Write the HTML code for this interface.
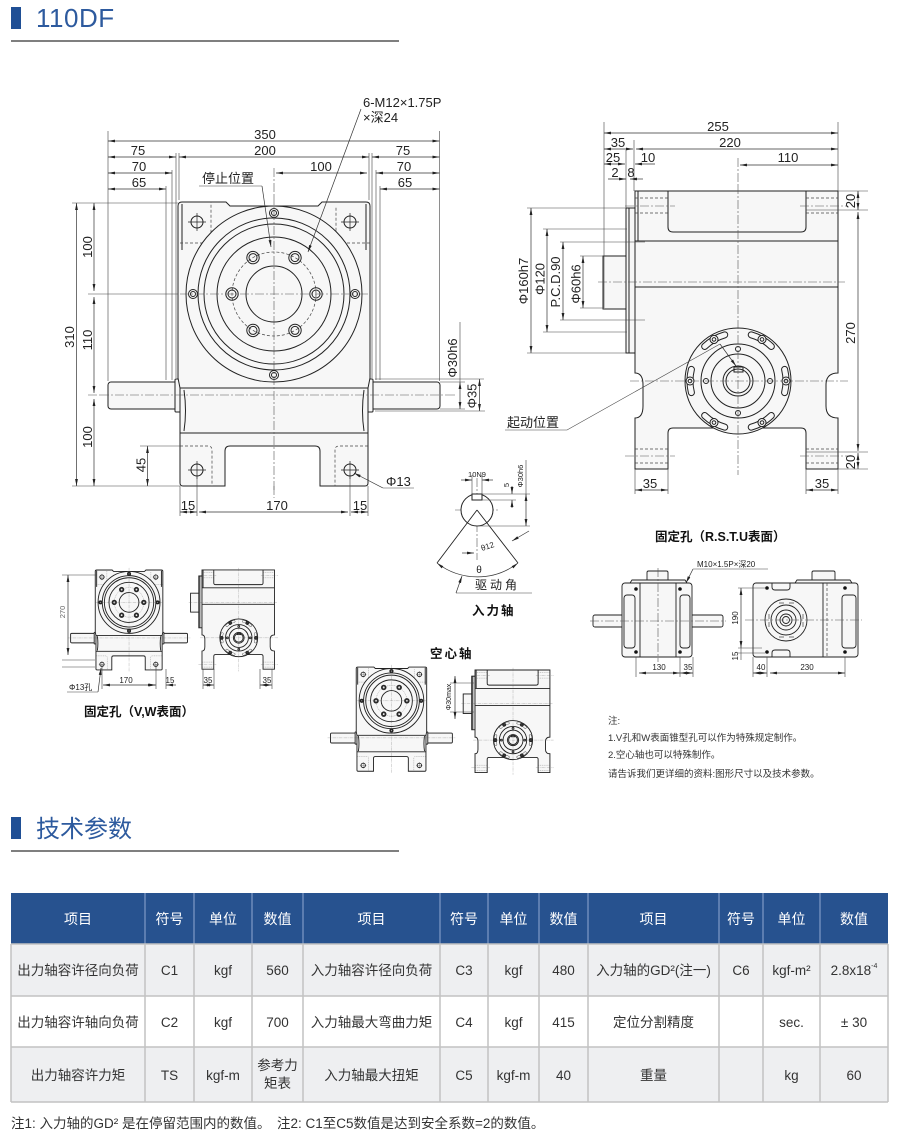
<!DOCTYPE html>
<html><head><meta charset="utf-8">
<style>
html,body{margin:0;padding:0;background:#fff;}
svg{display:block;font-family:"Liberation Sans","Noto Sans CJK SC",sans-serif;}
.d{stroke:#333;stroke-width:0.7;fill:none;marker-start:url(#a);marker-end:url(#a);}
.de{stroke:#333;stroke-width:0.7;fill:none;marker-end:url(#a);}
.e{stroke:#444;stroke-width:0.6;fill:none;}
.c{stroke:#555;stroke-width:0.6;stroke-dasharray:9 2 2 2;fill:none;}
.h{stroke:#444;stroke-width:0.7;stroke-dasharray:3 2;fill:none;}
.t{font-size:13px;fill:#222;}
.s{font-size:8px;fill:#222;}
.n{font-size:9.5px;fill:#333;}
.b{font-size:12.5px;fill:#111;font-weight:bold;}
.th{font-size:14px;fill:#fff;}
.td{font-size:13.5px;fill:#333;}
</style></head><body>
<svg width="900" height="1145" viewBox="0 0 900 1145" xmlns="http://www.w3.org/2000/svg">
<defs>
<marker id="a" viewBox="0 0 10 10" refX="10" refY="5" markerWidth="7" markerHeight="7" orient="auto-start-reverse" markerUnits="userSpaceOnUse"><path d="M0,3 L10,5 L0,7z" fill="#222"/></marker>
</defs>

<!-- Heading 110DF -->
<rect x="11" y="7" width="10" height="22" fill="#1f4f95"/>
<text x="36" y="27" font-size="26" fill="#2d5a9e" letter-spacing="0.5">110DF</text>
<line x1="11" y1="41" x2="399" y2="41" stroke="#555" stroke-width="1.5"/>

<!-- ============ MAIN FRONT VIEW ============ -->
<g stroke-width="1">
<g id="fv" stroke="#222" fill="none">
<rect x="108" y="382" width="70" height="27" rx="3" fill="#f7f7f7"/>
<rect x="175" y="379" width="6" height="33" rx="1" fill="#f7f7f7"/>
<rect x="370" y="382" width="70" height="27" rx="3" fill="#f7f7f7"/>
<rect x="367" y="379" width="6" height="33" rx="1" fill="#f7f7f7"/>
<path d="M178,206 Q178,202 182,202 H226 L230,206 H318 L322,202 H366 Q370,202 370,206 V378 L368,388 V483 Q368,486 365,486 H320 V451 Q320,446 315,446 H230 Q225,446 225,451 V486 H183 Q180,486 180,483 V388 L178,378 Z" fill="#f7f7f7"/>
<path d="M182,204 V250 M366,204 V250"/>
<path d="M180,388 H368 M180,433 H368 M184,390 Q187,411 184,431 M364,390 Q361,411 364,431"/>
<path class="h" d="M180,243 H208 Q211,243 211,240 V202 M370,243 H339 Q336,243 336,240 V206 M180,446 H208 Q212,446 212,450 V486 M368,446 H339 Q335,446 335,450 V486"/>
<circle cx="274" cy="294" r="88" fill="#f7f7f7"/>
<circle cx="274" cy="294" r="76"/>
<circle cx="274" cy="294" r="70"/>
<circle cx="274" cy="294" r="57"/>
<circle class="h" cx="274" cy="294" r="42"/>
<circle cx="274" cy="294" r="28"/>
<circle cx="316" cy="294" r="6.2"/><circle cx="316" cy="294" r="4"/>
<circle cx="295" cy="330.4" r="6.2"/><circle cx="295" cy="330.4" r="4"/>
<circle cx="253" cy="330.4" r="6.2"/><circle cx="253" cy="330.4" r="4"/>
<circle cx="232" cy="294" r="6.2"/><circle cx="232" cy="294" r="4"/>
<circle cx="253" cy="257.6" r="6.2"/><circle cx="253" cy="257.6" r="4"/>
<circle cx="295" cy="257.6" r="6.2"/><circle cx="295" cy="257.6" r="4"/>
<circle cx="274" cy="213" r="4.5"/><circle cx="274" cy="213" r="2.5"/>
<circle cx="274" cy="375" r="4.5"/><circle cx="274" cy="375" r="2.5"/>
<circle cx="193" cy="294" r="4.5"/><circle cx="193" cy="294" r="2.5"/>
<circle cx="355" cy="294" r="4.5"/><circle cx="355" cy="294" r="2.5"/>
<circle cx="197" cy="222" r="6"/><circle cx="350" cy="222" r="6"/>
<circle cx="197" cy="470" r="6"/><circle cx="350" cy="470" r="6"/>
<path stroke-width="0.7" d="M188,222 H206 M197,213 V231 M341,222 H359 M350,213 V231 M188,470 H206 M197,461 V479 M341,470 H359 M350,461 V479"/>
<path class="c" d="M274,196 V492 M180,294 H368 M100,395 H448"/>
</g>
</g>

<!-- front view dims -->
<path class="c" d="M274,168 V196 M274,486 V498 M88,395 H100 M448,395 H455"/>
<path class="e" d="M108,131 V381 M439.5,131 V381 M166,186 V380 M172,170 V380 M176,153 V378 M179,153 V200 M369,153 V200 M372,153 V378 M376,170 V380 M380,186 V380"/>
<line class="d" x1="108" y1="141" x2="439.5" y2="141"/>
<text class="t" x="265" y="139" text-anchor="middle">350</text>
<line class="d" x1="108" y1="157" x2="176" y2="157"/>
<line class="d" x1="179" y1="157" x2="369" y2="157"/>
<line class="d" x1="372" y1="157" x2="439.5" y2="157"/>
<text class="t" x="138" y="155" text-anchor="middle">75</text>
<text class="t" x="265" y="155" text-anchor="middle">200</text>
<text class="t" x="403" y="155" text-anchor="middle">75</text>
<line class="d" x1="108" y1="173" x2="172" y2="173"/>
<line class="d" x1="276" y1="173" x2="367" y2="173"/>
<line class="d" x1="376" y1="173" x2="439.5" y2="173"/>
<text class="t" x="139" y="171" text-anchor="middle">70</text>
<text class="t" x="321" y="171" text-anchor="middle">100</text>
<text class="t" x="404" y="171" text-anchor="middle">70</text>
<line class="d" x1="108" y1="189" x2="166" y2="189"/>
<line class="d" x1="380" y1="189" x2="439.5" y2="189"/>
<text class="t" x="139" y="187" text-anchor="middle">65</text>
<text class="t" x="405" y="187" text-anchor="middle">65</text>

<text x="202" y="183" font-size="13" fill="#222">停止位置</text>
<line class="e" x1="199" y1="186" x2="262" y2="186"/>
<line class="de" x1="262" y1="186" x2="271" y2="247"/>
<text class="t" x="363" y="107">6-M12×1.75P</text>
<text class="t" x="363" y="122">×深24</text>
<line class="de" x1="361" y1="109" x2="308" y2="252"/>

<!-- left dims -->
<path class="e" d="M72,203 H178 M88,294 H178 M72,486 H180 M140,446 H180"/>
<line class="d" x1="76.5" y1="203" x2="76.5" y2="486"/>
<line class="d" x1="94" y1="203" x2="94" y2="291"/>
<line class="d" x1="94" y1="297" x2="94" y2="393"/>
<line class="d" x1="94" y1="399" x2="94" y2="486"/>
<line class="d" x1="147.5" y1="446" x2="147.5" y2="486"/>
<text class="t" transform="translate(74,337) rotate(-90)" text-anchor="middle">310</text>
<text class="t" transform="translate(92,247) rotate(-90)" text-anchor="middle">100</text>
<text class="t" transform="translate(92,340) rotate(-90)" text-anchor="middle">110</text>
<text class="t" transform="translate(92,437) rotate(-90)" text-anchor="middle">100</text>
<text class="t" transform="translate(145.5,465) rotate(-90)" text-anchor="middle">45</text>

<!-- bottom dims -->
<path class="e" d="M180,486 V516 M197,476 V516 M350,476 V516 M368,486 V516"/>
<line class="d" x1="180" y1="512" x2="197" y2="512"/>
<line class="d" x1="199" y1="512" x2="348" y2="512"/>
<line class="d" x1="351" y1="512" x2="368" y2="512"/>
<text class="t" x="188" y="510" text-anchor="middle">15</text>
<text class="t" x="277" y="510" text-anchor="middle">170</text>
<text class="t" x="360" y="510" text-anchor="middle">15</text>
<text class="t" x="386" y="486">Φ13</text>
<path class="e" d="M383,488 H414"/>
<line class="de" x1="383" y1="488" x2="354" y2="473"/>

<!-- right shaft dims -->
<path class="e" d="M440,382 H465 M440,409 H465 M375,379 H484 M375,411 H485"/>
<line class="e" x1="460" y1="322" x2="460" y2="382"/>
<line class="d" x1="460" y1="382" x2="460" y2="409"/>
<line class="d" x1="479.5" y1="379" x2="479.5" y2="411"/>
<text class="t" transform="translate(457,358) rotate(-90)" text-anchor="middle">Φ30h6</text>
<text class="t" transform="translate(476.5,396) rotate(-90)" text-anchor="middle">Φ35</text>

<!-- ============ MAIN SIDE VIEW ============ -->
<g stroke-width="1">
<g id="sv" stroke="#222" fill="none">
<rect x="603" y="256" width="24" height="53" fill="#f7f7f7"/>
<rect x="626" y="208" width="9" height="145" fill="#f7f7f7"/>
<line x1="629" y1="208" x2="629" y2="353"/>
<path d="M635,191 H838 V373 Q826,373 826,385 V406 Q826,418 838,418 V469 H806 V433 Q806,428 801,428 H673 Q668,428 668,433 V469 H635 V418 Q643,418 643,406 V385 Q643,373 635,373 Z" fill="#f7f7f7"/>
<path d="M668,191 V227 Q668,232 673,232 H801 Q806,232 806,227 V191"/>
<line x1="638" y1="191" x2="638" y2="241"/>
<path d="M635,241 H838 M635,287 H838"/>
<path class="h" d="M635,198 H668 M635,213 H668 M806,198 H838 M806,213 H838 M635,449 H668 M635,463 H668 M806,449 H838 M806,463 H838"/>
<path class="c" d="M625,206 H675 M800,206 H848 M625,456 H675 M800,456 H848"/>
<circle cx="738" cy="381" r="53" fill="#f7f7f7"/>
<circle cx="738" cy="381" r="37"/>
<circle cx="738" cy="381" r="27"/>
<circle cx="738" cy="381" r="15"/>
<circle cx="738" cy="381" r="12"/>
<rect x="734" y="367" width="9" height="5"/>
<g id="slot">
<path d="M784.6,369.4 A48,48 0 0 1 784.6,392.6" stroke="#222" stroke-width="7" stroke-linecap="round"/>
<path d="M784.6,369.4 A48,48 0 0 1 784.6,392.6" stroke="#f7f7f7" stroke-width="5" stroke-linecap="round"/>
<circle cx="786" cy="381" r="4" fill="#f7f7f7"/>
<circle cx="786" cy="381" r="1.8"/>
</g>
<use href="#slot" transform="rotate(60 738 381)"/>
<use href="#slot" transform="rotate(120 738 381)"/>
<use href="#slot" transform="rotate(180 738 381)"/>
<use href="#slot" transform="rotate(240 738 381)"/>
<use href="#slot" transform="rotate(300 738 381)"/>
<circle cx="770" cy="381" r="2.5"/><circle cx="706" cy="381" r="2.5"/>
<circle cx="738" cy="349" r="2.5"/><circle cx="738" cy="413" r="2.5"/>
<path class="c" d="M738,185 V475 M630,381 H848 M598,282 H845"/>
</g>
</g>

<!-- side view dims -->
<path class="c" d="M738,158 V185"/>
<path class="e" d="M604,122 V308 M838,122 V191 M626,150 V208 M634,140 V191"/>
<line class="d" x1="604" y1="133" x2="838" y2="133"/>
<text class="t" x="718" y="131" text-anchor="middle">255</text>
<line class="d" x1="604" y1="149" x2="633" y2="149"/>
<line class="d" x1="636" y1="149" x2="838" y2="149"/>
<text class="t" x="618" y="147" text-anchor="middle">35</text>
<text class="t" x="730" y="147" text-anchor="middle">220</text>
<line class="d" x1="604" y1="164" x2="625" y2="164"/>
<line class="de" x1="655" y1="164" x2="635" y2="164"/>
<line class="d" x1="740" y1="165" x2="838" y2="165"/>
<text class="t" x="613" y="162" text-anchor="middle">25</text>
<text class="t" x="648" y="162" text-anchor="middle">10</text>
<text class="t" x="788" y="162" text-anchor="middle">110</text>
<line class="de" x1="608" y1="179" x2="626" y2="179"/>
<line class="de" x1="643" y1="179" x2="630" y2="179"/>
<text class="t" x="615" y="177" text-anchor="middle">2</text>
<text class="t" x="631" y="177" text-anchor="middle">8</text>

<path class="e" d="M527,208 H626 M543,229 H627 M560,242 H645 M580,256 H603 M580,308 H603 M560,320 H645 M543,332 H627 M527,353 H626"/>
<line class="d" x1="531" y1="208" x2="531" y2="353"/>
<line class="d" x1="547" y1="229" x2="547" y2="332"/>
<line class="d" x1="563" y1="242" x2="563" y2="320"/>
<line class="d" x1="583" y1="256" x2="583" y2="308"/>
<text class="t" transform="translate(528,281) rotate(-90)" text-anchor="middle">Φ160h7</text>
<text class="t" transform="translate(544.5,279) rotate(-90)" text-anchor="middle">Φ120</text>
<text class="t" transform="translate(560,282) rotate(-90)" text-anchor="middle">P.C.D.90</text>
<text class="t" transform="translate(580.5,284) rotate(-90)" text-anchor="middle">Φ60h6</text>

<path class="e" d="M838,191 H868 M806,210 H868 M806,452 H868 M838,469 H868"/>
<line class="d" x1="858" y1="191" x2="858" y2="210"/>
<line class="d" x1="858" y1="212" x2="858" y2="451"/>
<line class="d" x1="858" y1="453" x2="858" y2="469"/>
<text class="t" transform="translate(855,201) rotate(-90)" text-anchor="middle">20</text>
<text class="t" transform="translate(855,333) rotate(-90)" text-anchor="middle">270</text>
<text class="t" transform="translate(855,462) rotate(-90)" text-anchor="middle">20</text>

<path class="e" d="M635,469 V494 M668,469 V494 M806,469 V494 M838,469 V494"/>
<line class="d" x1="635" y1="490" x2="668" y2="490"/>
<line class="d" x1="806" y1="490" x2="838" y2="490"/>
<text class="t" x="650" y="488" text-anchor="middle">35</text>
<text class="t" x="822" y="488" text-anchor="middle">35</text>

<text x="507" y="427" font-size="13" fill="#222">起动位置</text>
<path class="e" d="M505,430 H567 L720,344"/>
<line class="de" x1="720" y1="344" x2="736" y2="366"/>

<!-- ============ INPUT SHAFT DETAIL ============ -->
<path class="c" d="M477,478 V560 M455,510 H500"/>
<circle cx="477" cy="510" r="16" fill="#fff" stroke="#222"/>
<rect x="472" y="494" width="10" height="6" fill="#fff" stroke="#222"/>
<path d="M477,510 L437,563 M477,510 L518,563" stroke="#222" stroke-width="0.9" fill="none"/>
<path class="d" d="M437,563 A66,66 0 0 0 518,563"/>
<path class="e" d="M472,475 V494 M482,475 V494"/>
<line class="de" x1="461" y1="480" x2="472" y2="480"/>
<line class="de" x1="493" y1="480" x2="482" y2="480"/>
<text x="477" y="477" font-size="7.5" fill="#222" text-anchor="middle">10N9</text>
<path class="e" d="M482,494 H530 M482,500 H516 M477,526 H530 M526,460 V494"/>
<line class="de" x1="512" y1="486" x2="512" y2="494"/>
<line class="de" x1="512" y1="508" x2="512" y2="500"/>
<line class="d" x1="526" y1="494" x2="526" y2="526"/>
<text transform="translate(509,485) rotate(-90)" font-size="7.5" fill="#222" text-anchor="middle">5</text>
<text transform="translate(523,476) rotate(-90)" font-size="7.5" fill="#222" text-anchor="middle">Φ30h6</text>
<line class="de" x1="462" y1="553" x2="474" y2="553"/>
<line class="de" x1="529" y1="531" x2="512" y2="541"/>
<text transform="translate(482,551) rotate(-18)" font-size="8" fill="#222">θ12</text>
<text x="479" y="573" font-size="10" fill="#222" text-anchor="middle">θ</text>
<text x="475" y="589" font-size="12" fill="#222" letter-spacing="3">驱动角</text>
<path class="e" d="M532,593 H456"/>
<line class="de" x1="456" y1="593" x2="462" y2="576"/>
<text class="b" x="472" y="615" letter-spacing="2">入力轴</text>

<!-- ============ V,W small views ============ -->
<use href="#fv" transform="translate(32.6,498.9) scale(0.352)" stroke-width="2.6"/>
<use href="#sv" transform="translate(-24.7,501.8) scale(0.357)" stroke-width="2.5"/>
<path class="e" d="M62,575 H97 M62,660 H95 M62,667 H95 M102,664 V689 M156,664 V689 M166,669 V689 M203,669 V689 M214,669 V689 M260,669 V689 M272,669 V689"/>
<line class="d" x1="68" y1="575" x2="68" y2="655"/>
<text transform="translate(65,612) rotate(-90)" font-size="7.5" fill="#666" text-anchor="middle">270</text>
<line class="d" x1="103" y1="685" x2="155" y2="685"/>
<text class="s" x="126" y="683" text-anchor="middle">170</text>
<line class="de" x1="176" y1="685" x2="166" y2="685"/>
<line class="de" x1="148" y1="685" x2="156" y2="685"/>
<text class="s" x="170" y="683" text-anchor="middle">15</text>
<line class="d" x1="203" y1="685" x2="214" y2="685"/>
<line class="d" x1="260" y1="685" x2="272" y2="685"/>
<text class="s" x="208" y="683" text-anchor="middle">35</text>
<text class="s" x="267" y="683" text-anchor="middle">35</text>
<text class="s" x="69" y="690">Φ13孔</text>
<path class="e" d="M67,692 H98"/>
<line class="de" x1="98" y1="692" x2="101" y2="668"/>
<text class="b" x="84" y="716">固定孔（V,W表面）</text>

<!-- ============ Hollow shaft views ============ -->
<text class="b" x="430" y="658" letter-spacing="2">空心轴</text>
<use href="#fv" transform="translate(290.9,592.9) scale(0.367)" stroke-width="2.5"/>
<use href="#sv" transform="translate(240.7,599.5) scale(0.369)" stroke-width="2.5"/>
<path class="e" d="M450,683 H474 M450,712 H474"/>
<line class="d" x1="455" y1="676" x2="455" y2="719"/>
<text transform="translate(451,697) rotate(-90)" font-size="7" fill="#222" text-anchor="middle">Φ30max</text>

<!-- ============ R.S.T.U views ============ -->
<text class="b" x="655" y="541">固定孔（R.S.T.U表面）</text>
<text class="s" x="697" y="567">M10×1.5P×深20</text>
<path class="e" d="M768,569 H693"/>
<line class="de" x1="693" y1="569" x2="686" y2="583"/>
<g stroke="#222" stroke-width="0.9" fill="#f7f7f7">
<rect x="647" y="571" width="21" height="11" rx="1.5"/>
<path d="M630,583 L632,580 H685 L687,583"/>
<rect x="593" y="615" width="32" height="12" rx="2"/>
<rect x="689" y="615" width="34" height="12" rx="2"/>
<rect x="622" y="583" width="70" height="74" rx="3"/>
<path fill="none" d="M640,583 V657 M676,583 V657"/>
<rect x="624" y="595" width="11" height="53" rx="3"/>
<rect x="680" y="595" width="10" height="53" rx="3"/>
<rect x="812" y="571" width="23" height="12" rx="1.5"/>
<path d="M795,583 L797,580 H850 L852,583"/>
<rect x="753" y="583" width="105" height="74" rx="3"/>
<path fill="none" d="M772,583 V587 Q772,590 775,590 H787 Q790,590 790,587 V583 M772,657 V653 Q772,650 775,650 H787 Q790,650 790,653 V657 M823,583 V657"/>
<rect x="842" y="595" width="14" height="53" rx="3"/>
<circle cx="786" cy="620" r="21"/>
<circle cx="786" cy="620" r="15" fill="none"/>
<circle cx="786" cy="620" r="10" fill="none"/>
<circle cx="786" cy="620" r="6" fill="none"/>
<circle cx="786" cy="620" r="3.5" fill="none"/>
</g>
<path class="h" d="M827,583 V657"/>
<g fill="#111">
<circle cx="636" cy="589" r="1.8"/><circle cx="636" cy="652" r="1.8"/>
<circle cx="680" cy="589" r="1.8"/><circle cx="680" cy="652" r="1.8"/>
<circle cx="767" cy="588" r="1.8"/><circle cx="767" cy="652" r="1.8"/>
<circle cx="845" cy="588" r="1.8"/><circle cx="845" cy="652" r="1.8"/>
</g>
<g stroke="#444" stroke-width="0.7" fill="none">
<path d="M779,603 h5 M789,603 h5 M779,637 h5 M789,637 h5 M769,614 v5 M769,622 v5 M803,614 v5 M803,622 v5"/>
</g>
<path class="c" d="M590,621 H726 M658,568 V662 M745,620 H862"/>
<path class="e" d="M636,657 V677 M680,657 V677 M693,657 V677 M738,588 H765 M738,648 H762 M738,653 H765 M753,657 V677 M767,657 V677 M845,657 V677"/>
<line class="d" x1="639" y1="673" x2="680" y2="673"/>
<line class="d" x1="680" y1="673" x2="693" y2="673"/>
<text class="s" x="659" y="670" text-anchor="middle">130</text>
<text class="s" x="688" y="670" text-anchor="middle">35</text>
<line class="d" x1="741" y1="588" x2="741" y2="648"/>
<line class="e" x1="741" y1="648" x2="741" y2="660"/>
<text class="s" transform="translate(738,618) rotate(-90)" text-anchor="middle">190</text>
<text class="s" transform="translate(738,656) rotate(-90)" text-anchor="middle">15</text>
<line class="d" x1="753" y1="673" x2="767" y2="673"/>
<line class="d" x1="770" y1="673" x2="845" y2="673"/>
<text class="s" x="761" y="670" text-anchor="middle">40</text>
<text class="s" x="807" y="670" text-anchor="middle">230</text>

<!-- notes -->
<text class="n" x="608" y="724" font-size="10">注:</text>
<text class="n" x="608" y="741">1.V孔和W表面锥型孔可以作为特殊规定制作。</text>
<text class="n" x="608" y="758">2.空心轴也可以特殊制作。</text>
<text class="n" x="608" y="777">请告诉我们更详细的资料:图形尺寸以及技术参数。</text>

<!-- ============ 技术参数 ============ -->
<rect x="11" y="817" width="10" height="22" fill="#1f4f95"/>
<text x="36" y="837" font-size="24" fill="#2d5a9e">技术参数</text>
<line x1="11" y1="851" x2="399" y2="851" stroke="#555" stroke-width="1.5"/>

<!-- table -->
<rect x="11" y="893" width="877" height="51" fill="#27528f"/>
<rect x="11" y="944" width="877" height="52" fill="#eeeff1"/>
<rect x="11" y="996" width="877" height="51" fill="#ffffff"/>
<rect x="11" y="1047" width="877" height="55" fill="#eeeff1"/>
<g stroke="#7f9ac6" stroke-width="1.2">
<path d="M145,893 V944 M194,893 V944 M252,893 V944 M303,893 V944 M440,893 V944 M488,893 V944 M539,893 V944 M588,893 V944 M719,893 V944 M763,893 V944 M820,893 V944"/>
</g>
<g stroke="#c2c2c2" stroke-width="1.5" fill="none">
<path d="M145,944 V1102 M194,944 V1102 M252,944 V1102 M303,944 V1102 M440,944 V1102 M488,944 V1102 M539,944 V1102 M588,944 V1102 M719,944 V1102 M763,944 V1102 M820,944 V1102"/>
<path d="M11,944 H888 M11,996 H888 M11,1047 H888 M11,1102 H888 M11,944 V1102 M888,944 V1102"/>
</g>
<g class="th" text-anchor="middle">
<text x="78" y="924">项目</text><text x="169.5" y="924">符号</text><text x="223" y="924">单位</text><text x="277.5" y="924">数值</text>
<text x="371.5" y="924">项目</text><text x="464" y="924">符号</text><text x="513.5" y="924">单位</text><text x="563.5" y="924">数值</text>
<text x="653.5" y="924">项目</text><text x="741" y="924">符号</text><text x="791.5" y="924">单位</text><text x="854" y="924">数值</text>
</g>
<g class="td" text-anchor="middle">
<text x="78" y="975">出力轴容许径向负荷</text><text x="169.5" y="975">C1</text><text x="223" y="975">kgf</text><text x="277.5" y="975">560</text>
<text x="371.5" y="975">入力轴容许径向负荷</text><text x="464" y="975">C3</text><text x="513.5" y="975">kgf</text><text x="563.5" y="975">480</text>
<text x="653.5" y="975">入力轴的GD²(注一)</text><text x="741" y="975">C6</text><text x="791.5" y="975">kgf-m²</text><text x="854" y="975">2.8x18<tspan font-size="7" dy="-7">-4</tspan></text>
<text x="78" y="1027">出力轴容许轴向负荷</text><text x="169.5" y="1027">C2</text><text x="223" y="1027">kgf</text><text x="277.5" y="1027">700</text>
<text x="371.5" y="1027">入力轴最大弯曲力矩</text><text x="464" y="1027">C4</text><text x="513.5" y="1027">kgf</text><text x="563.5" y="1027">415</text>
<text x="653.5" y="1027">定位分割精度</text><text x="791.5" y="1027">sec.</text><text x="854" y="1027">± 30</text>
<text x="78" y="1080">出力轴容许力矩</text><text x="169.5" y="1080">TS</text><text x="223" y="1080">kgf-m</text>
<text x="277.5" y="1070">参考力</text><text x="277.5" y="1088">矩表</text>
<text x="371.5" y="1080">入力轴最大扭矩</text><text x="464" y="1080">C5</text><text x="513.5" y="1080">kgf-m</text><text x="563.5" y="1080">40</text>
<text x="653.5" y="1080">重量</text><text x="791.5" y="1080">kg</text><text x="854" y="1080">60</text>
</g>
<text class="td" x="11" y="1128">注1: 入力轴的GD² 是在停留范围内的数值。</text>
<text class="td" x="277" y="1128">注2: C1至C5数值是达到安全系数=2的数值。</text>
</svg>
</body></html>
